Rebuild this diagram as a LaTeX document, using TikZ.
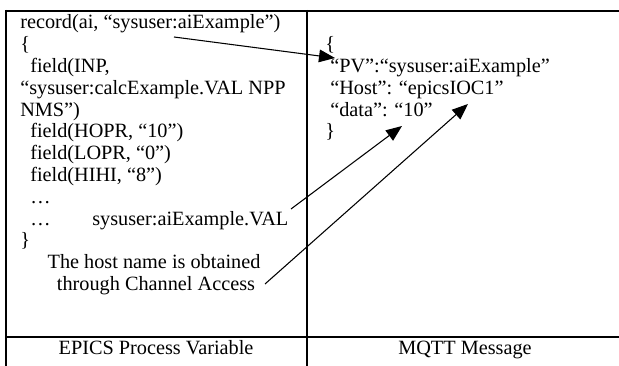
\documentclass[tikz,border=0pt]{standalone}
\usepackage{fontspec}
\setmainfont{Liberation Serif}
\usetikzlibrary{arrows.meta}
\begin{document}
\begin{tikzpicture}[x=0.75pt,y=-0.75pt,
  txt/.style={anchor=base west,inner sep=0pt,font=\fontsize{15.2}{16}\selectfont},
  ctxt/.style={anchor=base,inner sep=0pt,font=\fontsize{15.2}{16}\selectfont},
  grid/.style={line width=1.5pt},
  arr/.style={line width=0.8pt,-{Triangle[length=12pt,width=9.5pt]}}]
\useasboundingbox (0,0) rectangle (619,366);
\clip (0,0) rectangle (619,366);
% table
\draw[grid] (6,11) -- (625,11);
\draw[grid] (6,10) -- (6,370);
\draw[grid] (307,10) -- (307,370);
\draw[grid] (6,337) -- (625,337);
% left column
\node[txt] (l1) at (20,29) {record(ai, “sysuser:aiExample”)};
\node[txt] (l2) at (20,50.8) {\{};
\node[txt] (l3) at (30,72.6) {field(INP,};
\node[txt] (l4) at (20,94.4) {“sysuser:calcExample.VAL NPP};
\node[txt] (l5) at (20,116.2) {NMS”)};
\node[txt] (l6) at (30,138) {field(HOPR, “10”)};
\node[txt] (l7) at (30,159.8) {field(LOPR, “0”)};
\node[txt] (l8) at (30,181.6) {field(HIHI, “8”)};
\node[txt] (l9) at (30,203.4) {…};
\node[txt] (l10) at (30,225.2) {…};
\node[txt] (l10b) at (92,225.2) {sysuser:aiExample.VAL};
\node[txt] (l11) at (20,247) {\}};
\node[ctxt] (l12) at (154,268.8) {The host name is obtained};
\node[ctxt] (l13) at (156,290.6) {through Channel Access};
\node[ctxt] (h1) at (156,355) {EPICS Process Variable};
% right column
\node[txt] (r1) at (325,50.8) {\{};
\node[txt] (r2) at (330,72.6) {“PV”:“sysuser:aiExample”};
\node[txt] (r3) at (330,94.4) {“Host”: “epicsIOC1”};
\node[txt] (r4) at (330,116.2) {“data”: “10”};
\node[txt] (r5) at (325,138) {\}};
\node[ctxt] (h2) at (465,355) {MQTT Message};
% arrows
\coordinate (a1s) at (174,37);
\coordinate (a1e) at (335,58);
\coordinate (a2s) at (291,209);
\coordinate (a2e) at (402,126);
\coordinate (a3s) at (265,284);
\coordinate (a3e) at (468,104);
\draw[arr] (a1s) -- (a1e);
\draw[arr] (a2s) -- (a2e);
\draw[arr] (a3s) -- (a3e);
\end{tikzpicture}
\end{document}
